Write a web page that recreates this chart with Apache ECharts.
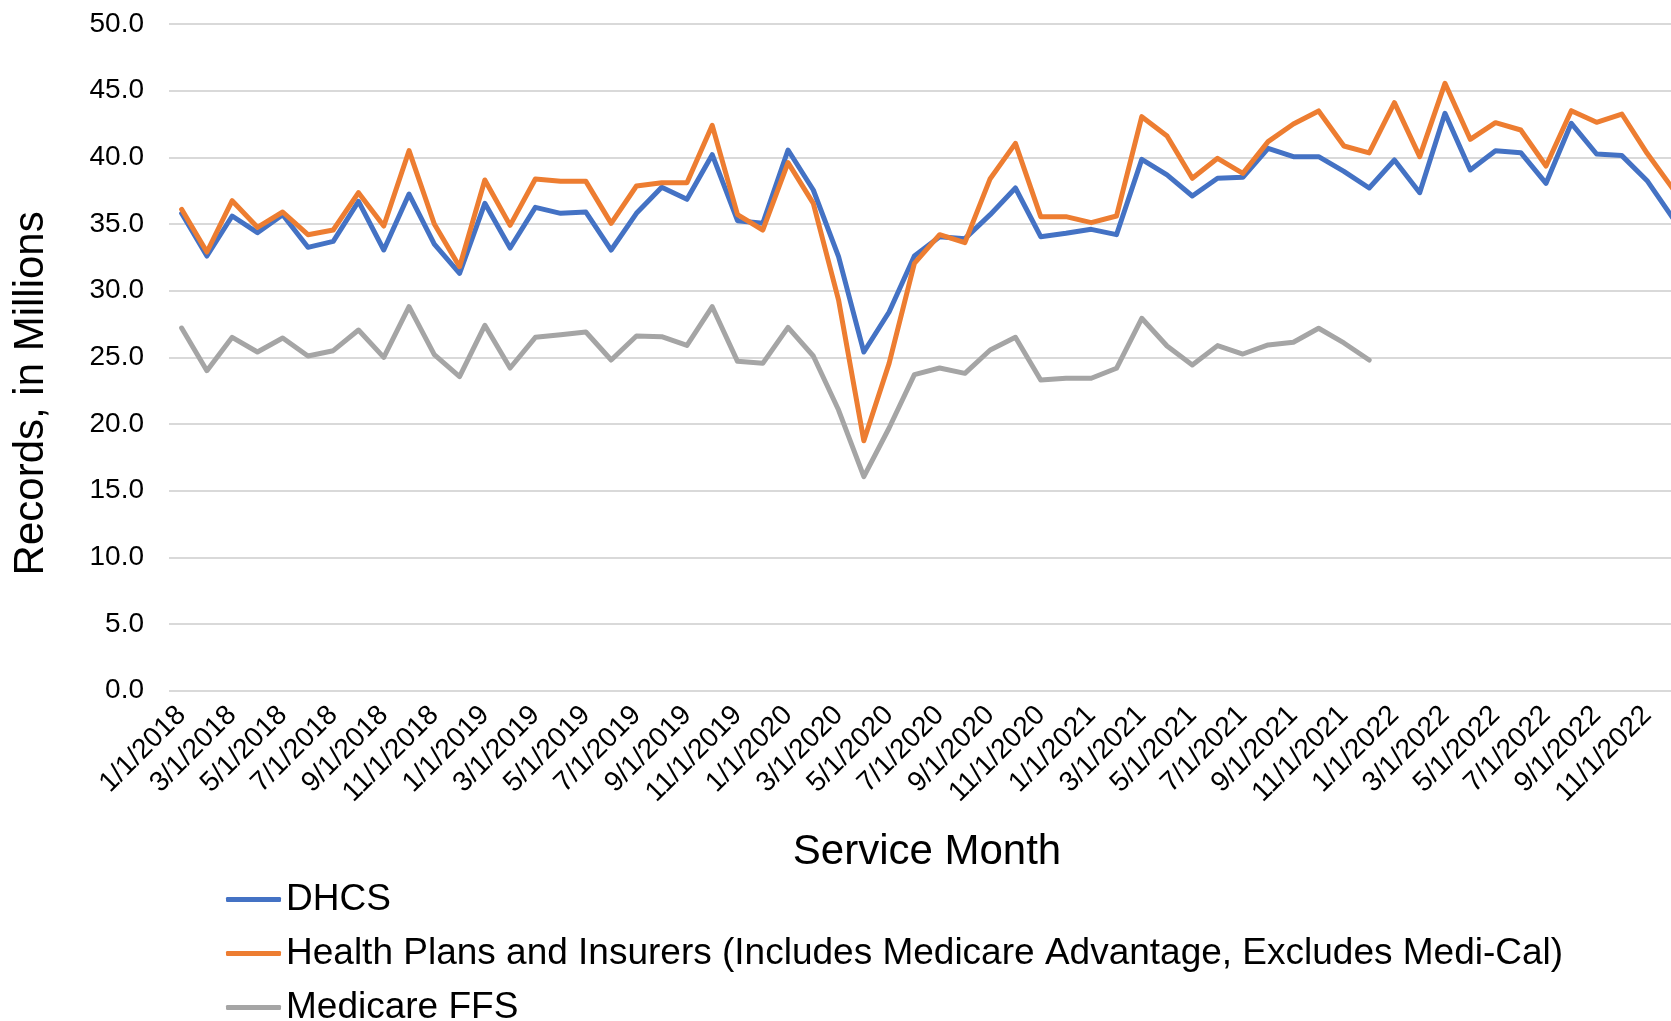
<!DOCTYPE html>
<html>
<head>
<meta charset="utf-8">
<title>Records by Service Month</title>
<script src="https://cdn.jsdelivr.net/npm/echarts@6/dist/echarts.min.js"></script>
<style>
  html, body { margin: 0; padding: 0; background: #fff; }
  #chart { width: 1671px; height: 1021px; }
</style>
</head>
<body>
<div id="chart"></div>
<script>
// service months, 1/1/2018 .. 12/1/2022
const months = [
  '1/1/2018', '2/1/2018', '3/1/2018', '4/1/2018', '5/1/2018', '6/1/2018',
  '7/1/2018', '8/1/2018', '9/1/2018', '10/1/2018', '11/1/2018', '12/1/2018',
  '1/1/2019', '2/1/2019', '3/1/2019', '4/1/2019', '5/1/2019', '6/1/2019',
  '7/1/2019', '8/1/2019', '9/1/2019', '10/1/2019', '11/1/2019', '12/1/2019',
  '1/1/2020', '2/1/2020', '3/1/2020', '4/1/2020', '5/1/2020', '6/1/2020',
  '7/1/2020', '8/1/2020', '9/1/2020', '10/1/2020', '11/1/2020', '12/1/2020',
  '1/1/2021', '2/1/2021', '3/1/2021', '4/1/2021', '5/1/2021', '6/1/2021',
  '7/1/2021', '8/1/2021', '9/1/2021', '10/1/2021', '11/1/2021', '12/1/2021',
  '1/1/2022', '2/1/2022', '3/1/2022', '4/1/2022', '5/1/2022', '6/1/2022',
  '7/1/2022', '8/1/2022', '9/1/2022', '10/1/2022', '11/1/2022', '12/1/2022'
]

// records, in millions
const dhcs = [
  35.8, 32.6, 35.6, 34.35, 35.7, 33.25, 33.7, 36.7, 33.05, 37.25, 33.5, 31.3,
  36.55, 33.2, 36.25, 35.8, 35.9, 33.05, 35.8, 37.75, 36.85, 40.2, 35.25, 35.05,
  40.55, 37.55, 32.55, 25.4, 28.4, 32.6, 34.05, 33.9, 35.7, 37.7, 34.05, 34.3,
  34.6, 34.2, 39.85, 38.68, 37.1, 38.43, 38.5, 40.68, 40.05, 40.05, 38.95, 37.7,
  39.8, 37.35, 43.3, 39.05, 40.5, 40.35, 38.05, 42.55, 40.25, 40.13, 38.25, 35.5
]

const healthPlans = [
  36.1, 32.9, 36.75, 34.75, 35.9, 34.2, 34.55, 37.35, 34.85, 40.5, 35.0, 31.8,
  38.3, 34.9, 38.38, 38.2, 38.2, 35.05, 37.85, 38.1, 38.1, 42.4, 35.7, 34.55,
  39.6, 36.55, 29.3, 18.75, 24.55, 32.05, 34.2, 33.6, 38.4, 41.05, 35.55, 35.55,
  35.1, 35.6, 43.05, 41.6, 38.43, 39.93, 38.8, 41.18, 42.5, 43.48, 40.85, 40.33,
  44.1, 40.05, 45.55, 41.35, 42.6, 42.05, 39.35, 43.5, 42.63, 43.25, 40.3, 37.7
]

// medicare FFS stops at 12/1/2021
const medicareFfs = [
  27.2, 24.0, 26.5, 25.4, 26.45, 25.1, 25.5, 27.05, 25.0, 28.8, 25.2, 23.55,
  27.4, 24.2, 26.5, 26.7, 26.9, 24.8, 26.6, 26.55, 25.9, 28.8, 24.7, 24.55,
  27.25, 25.1, 21.05, 16.05, 19.7, 23.7, 24.2, 23.8, 25.55, 26.5, 23.3, 23.43,
  23.43, 24.18, 27.93, 25.85, 24.43, 25.88, 25.25, 25.93, 26.13, 27.18, 26.08, 24.8
]

const seriesNames = [
  'DHCS',
  'Health Plans and Insurers (Includes Medicare Advantage, Excludes Medi-Cal)',
  'Medicare FFS'
]
const colors = ['#4472C4', '#ED7D31', '#A5A5A5']

const font = '"Liberation Sans", Arial, sans-serif'

function makeSeries(name, data, color) {
  return {
    name: name,
    type: 'line',
    data: data,
    symbol: 'none',
    smooth: false,
    color: color,
    lineStyle: { width: 5, color: color, cap: 'round', join: 'round' },
    emphasis: { disabled: true }
  }
}

const chart = echarts.init(document.getElementById('chart'))
chart.setOption({
  animation: false,
  backgroundColor: '#fff',
  textStyle: { fontFamily: font, color: '#000' },
  grid: {
    left: 169,
    top: 24,
    width: 1516,
    height: 666.7,
    outerBoundsMode: 'none'
  },
  legend: {
    orient: 'vertical',
    left: 226,
    top: 880,
    height: 200,
    padding: 0,
    itemWidth: 55,
    itemHeight: 5,
    itemGap: 15,
    icon: 'roundRect',
    textStyle: { fontFamily: font, fontSize: 37, color: '#000', lineHeight: 39 },
    data: seriesNames
  },
  xAxis: {
    type: 'category',
    data: months,
    boundaryGap: true,
    name: 'Service Month',
    nameLocation: 'middle',
    nameGap: 141,
    nameTextStyle: { fontFamily: font, fontSize: 42, color: '#000' },
    axisLine: { show: false },
    axisTick: { show: false },
    axisLabel: {
      interval: 1,
      rotate: 45,
      margin: 20,
      fontFamily: font,
      fontSize: 28,
      color: '#000'
    }
  },
  yAxis: {
    type: 'value',
    min: 0,
    max: 50,
    interval: 5,
    name: 'Records, in Millions',
    nameLocation: 'middle',
    nameGap: 117,
    nameTextStyle: { fontFamily: font, fontSize: 42, color: '#000', padding: [0, 72, 0, 0] },
    axisLine: { show: false },
    axisTick: { show: false },
    axisLabel: {
      margin: 25,
      fontFamily: font,
      fontSize: 28,
      color: '#000',
      formatter: function (v) { return v.toFixed(1) }
    },
    splitLine: { lineStyle: { color: '#D9D9D9', width: 2 } }
  },
  series: [
    makeSeries(seriesNames[0], dhcs, colors[0]),
    makeSeries(seriesNames[1], healthPlans, colors[1]),
    makeSeries(seriesNames[2], medicareFfs, colors[2])
  ]
})
</script>
</body>
</html>
